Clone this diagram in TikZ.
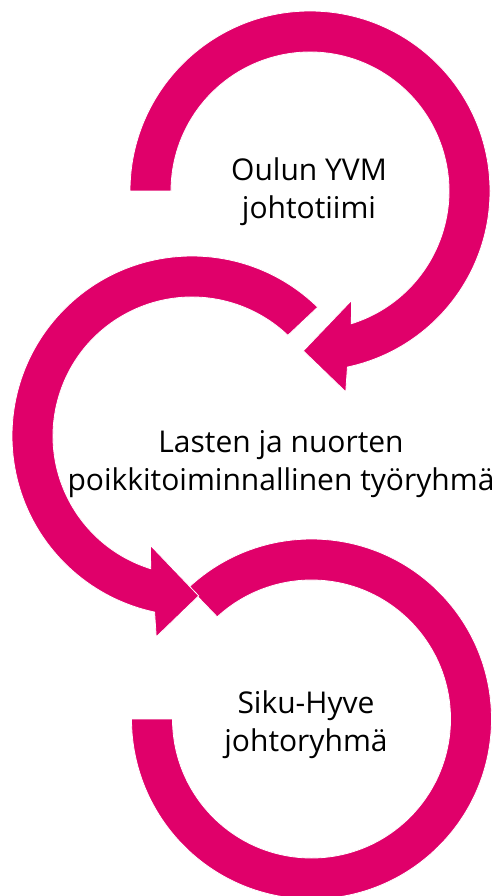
\documentclass[tikz,border=0pt]{standalone}
\usepackage{fontspec}
\setmainfont{Open Sans}
\usetikzlibrary{calc}
\definecolor{kirkas}{RGB}{224,0,106}

\begin{document}
\begin{tikzpicture}[x=1pt,y=1pt,
    band/.style={fill=kirkas,draw=white,line width=0.8pt},
    teksti/.style={align=center,inner sep=0pt,font=\fontsize{30}{38}\selectfont}]
  \useasboundingbox (0,0) rectangle (500,-896);
  \coordinate (c1) at (310,-191);
  \coordinate (c2) at (192,-436);
  \coordinate (c3) at (311.5,-719);

  % bottom loop, no head
  \path[band] ($(c3)+(133:180)$) arc[start angle=133,end angle=-180,radius=180]
    -- ($(c3)+(180:139)$) arc[start angle=-180,end angle=132.7,radius=139] -- cycle;

  % middle loop
  \path[band] ($(c2)+(45.7:180)$) arc[start angle=45.7,end angle=258,radius=180]
    -- ($(c2)+(259.9:204)$) -- ($(c2)+(272.4:160)$) -- ($(c2)+(249.2:117)$)
    -- ($(c2)+(252.7:139)$) arc[start angle=252.7,end angle=46.4,radius=139] -- cycle;

  % top loop
  \path[band] ($(c1)+(180:180)$) arc[start angle=180,end angle=-78,radius=180]
    -- ($(c1)+(-79.9:204)$) -- ($(c1)+(-92.4:160)$) -- ($(c1)+(-69.2:117)$)
    -- ($(c1)+(-72.7:139)$) arc[start angle=-72.7,end angle=180,radius=139] -- cycle;

  \node[teksti] (t1) at (309,-192) {Oulun YVM\\johtotiimi};
  \node[teksti] (t2) at (281,-464) {Lasten ja nuorten\\poikkitoiminnallinen työryhmä};
  \node[teksti] (t3) at (306,-725) {Siku-Hyve\\johtoryhmä};
\end{tikzpicture}
\end{document}
